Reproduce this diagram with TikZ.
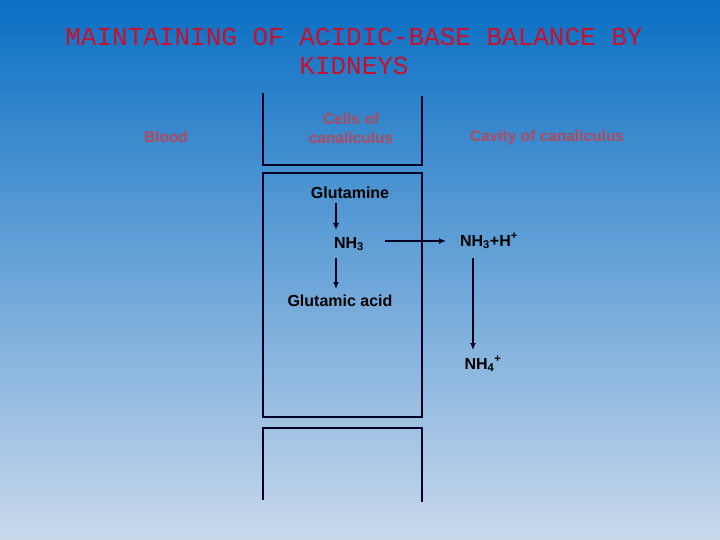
\documentclass[tikz,border=0pt]{standalone}
\usepackage{fontspec}
\setmainfont{Liberation Sans}
\newfontfamily\monof{Liberation Mono}
\usetikzlibrary{arrows.meta}
\begin{document}
\begin{tikzpicture}[x=1pt,y=-1pt,
  lbl/.style={font=\fontsize{16}{18}\selectfont\bfseries, text=black, inner sep=1pt},
  red/.style={font=\fontsize{15.5}{19}\selectfont\bfseries, text=redlbl, align=center, inner sep=1pt},
  ln/.style={draw=black!85!blue, line width=1.3pt},
  arr/.style={ln, -{Latex[length=7pt,width=6pt]}}]
\definecolor{topc}{HTML}{0A6FC3}
\definecolor{botc}{HTML}{C9D9EC}
\definecolor{redlbl}{HTML}{B04A5E}
\definecolor{titc}{HTML}{C8102E}
\shade[top color=topc, bottom color=botc, middle color=topc!50!botc] (0,0) rectangle (720,540);
\useasboundingbox (0,0) rectangle (720,540);
\node (t1) at (354,37) {\monof\fontsize{26}{28}\selectfont\color{titc}MAINTAINING OF ACIDIC-BASE BALANCE BY};
\node (t2) at (354,66) {\monof\fontsize{26}{28}\selectfont\color{titc}KIDNEYS};
\node[red] (blood) at (166,137) {Blood};
\node[red] (cells) at (351,128) {Cells of\\canaliculus};
\node[red] (cav) at (547,137) {Cavity of canaliculus};
\draw[ln] (263,93) -- (263,165) -- (422,165) -- (422,96);
\draw[ln] (263,173) rectangle (422,417);
\draw[ln] (263,500) -- (263,428) -- (422,428) -- (422,502);
\node[lbl] (glm) at (350,193) {Glutamine};
\node[lbl] (nh3) at (349,244) {NH\textsubscript{3}};
\node[lbl] (ga) at (340,301) {Glutamic acid};
\node[lbl] (nhh) at (489,241) {NH\textsubscript{3}+H\textsuperscript{+}};
\node[lbl] (nh4) at (483,364) {NH\textsubscript{4}\textsuperscript{+}};
\coordinate (a1) at (336,203); \coordinate (a2) at (336,230);
\coordinate (b1) at (336,258); \coordinate (b2) at (336,289);
\coordinate (c1) at (385,241); \coordinate (c2) at (446,241);
\coordinate (d1) at (473,258); \coordinate (d2) at (473,350);
\draw[arr] (a1) -- (a2);
\draw[arr] (b1) -- (b2);
\draw[arr] (c1) -- (c2);
\draw[arr] (d1) -- (d2);
\end{tikzpicture}
\end{document}
